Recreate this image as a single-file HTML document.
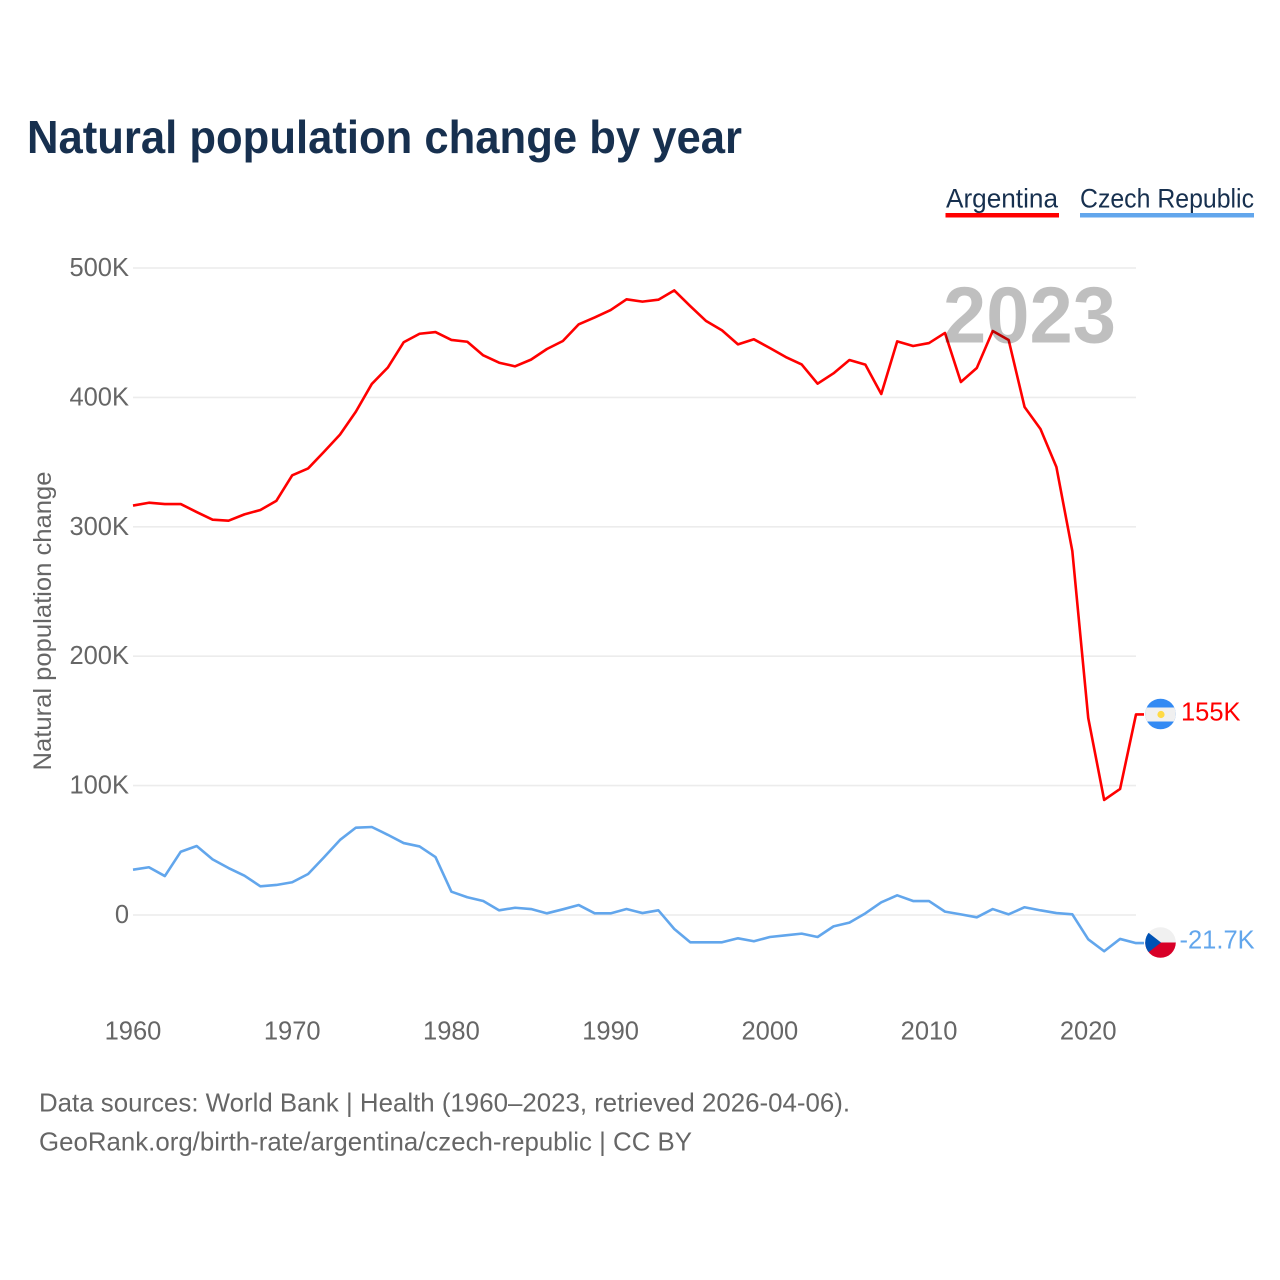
<!DOCTYPE html>
<html lang="en">
<head>
<meta charset="utf-8">
<title>Natural population change by year</title>
<style>
html,body{margin:0;padding:0;background:#fff;}
svg{display:block;font-family:"Liberation Sans",Arial,sans-serif;}
</style>
</head>
<body>
<svg id="chart" width="1280" height="1280" viewBox="0 0 1280 1280" xmlns="http://www.w3.org/2000/svg">
  <rect x="0" y="0" width="1280" height="1280" fill="#fff"/>
  <text x="27" y="153" font-size="46" font-weight="700" fill="#17304f" textLength="715" lengthAdjust="spacingAndGlyphs">Natural population change by year</text>

  <g>
    <text x="946" y="207.5" font-size="27" fill="#17304f" textLength="112" lengthAdjust="spacingAndGlyphs">Argentina</text>
    <rect x="945.5" y="213" width="113.5" height="4.5" fill="#ff0000"/>
  </g>
  <g>
    <text x="1080" y="207.5" font-size="27" fill="#17304f" textLength="174" lengthAdjust="spacingAndGlyphs">Czech Republic</text>
    <rect x="1080" y="213" width="174" height="4.5" fill="#62a6ec"/>
  </g>

  <g id="grid"></g>
  <g id="yticks"></g>
  <g id="xticks"></g>
  <text transform="translate(51 621) rotate(-90)" text-anchor="middle" font-size="25" fill="#666" textLength="299" lengthAdjust="spacingAndGlyphs">Natural population change</text>

  <g id="series"></g>

  <text x="943" y="342.5" font-size="80" font-weight="700" fill="#000" fill-opacity="0.25" textLength="173" lengthAdjust="spacingAndGlyphs">2023</text>

  <g>
    <clipPath id="clip-ar"><circle cx="1160.5" cy="714" r="15.3"/></clipPath>
    <g clip-path="url(#clip-ar)">
      <rect x="1145" y="698" width="31" height="32" fill="#338af3"/>
      <rect x="1145" y="707.5" width="31" height="14" fill="#f0f0f0"/>
      <circle cx="1161" cy="714.5" r="3.6" fill="#ffda44"/>
    </g>
  </g>
  <text id="label-ar" x="1181" y="720.5" font-size="25.5" fill="#ff0000"></text>

  <g>
    <clipPath id="clip-cz"><circle cx="1160.5" cy="942.5" r="15.3"/></clipPath>
    <g clip-path="url(#clip-cz)">
      <rect x="1145" y="927" width="31" height="16" fill="#f0f0f0"/>
      <rect x="1145" y="942.5" width="31" height="16" fill="#d80027"/>
      <polygon points="1145,930 1161,942.5 1145,955" fill="#0052b4"/>
    </g>
  </g>
  <text id="label-cz" x="1179.5" y="948.5" font-size="25.5" fill="#62a6ec"></text>

  <g>
    <text x="39" y="1111.3" font-size="26" fill="#666" textLength="811" lengthAdjust="spacingAndGlyphs">Data sources: World Bank | Health (1960–2023, retrieved 2026-04-06).</text>
    <text x="39" y="1150.3" font-size="26" fill="#666" textLength="653" lengthAdjust="spacingAndGlyphs">GeoRank.org/birth-rate/argentina/czech-republic | CC BY</text>
  </g>
</svg>
<script>
const startYear = 1960;
const yTickValues = [0, 100, 200, 300, 400, 500];
const xTickYears = [1960, 1970, 1980, 1990, 2000, 2010, 2020];
const argentina = [316.4,318.6,317.6,317.6,311.4,305.5,304.7,309.6,313,320,339.8,345.1,358,371.2,389,410.4,423,442.6,449.2,450.5,444.4,443,432.5,426.8,424,429.2,437.4,443.6,456.5,461.8,467.5,475.8,474,475.5,482.7,470.6,459,451.8,441,444.9,438.2,431.2,425.5,410.6,418.6,428.9,425.3,402.6,443.3,439.7,442,449.8,411.9,422.7,451.3,444.4,392.6,375.6,346.2,281.3,152.2,88.9,97.4,155];
const czechRepublic = [35,36.9,30.1,48.9,53.3,43,36.3,30.4,22.2,23.2,25.3,31.7,44.6,58,67.5,68,62,55.6,53,44.8,18,13.7,10.8,3.6,5.6,4.6,1.3,4.4,7.7,1.3,1.3,4.6,1.5,3.6,-10.8,-21.1,-21.1,-21.1,-18,-20.3,-17,-15.7,-14.4,-17,-8.8,-5.9,1.3,9.8,15.2,10.8,10.8,2.6,0.5,-1.8,4.6,0.5,6,3.6,1.5,0.5,-18.8,-28,-18.5,-21.7];

const NS = 'http://www.w3.org/2000/svg';
const plotLeft = 133, plotRight = 1136, zeroY = 915, yScale = 1.2940;
const endYear = startYear + argentina.length - 1;
function xPos(year) { return plotLeft + (year - startYear) * (plotRight - plotLeft) / (endYear - startYear); }
function yPos(v) { return zeroY - v * yScale; }
function fmt(v) {
  if (v === 0) return '0';
  const a = Math.abs(v);
  return (a >= 100 ? Math.round(v) : v.toFixed(1)) + 'K';
}
function make(tag, attrs, parent, text) {
  const el = document.createElementNS(NS, tag);
  for (const k in attrs) el.setAttribute(k, attrs[k]);
  if (text !== undefined) el.textContent = text;
  parent.appendChild(el);
  return el;
}

const grid = document.getElementById('grid');
const yticks = document.getElementById('yticks');
const xticks = document.getElementById('xticks');
const series = document.getElementById('series');

yTickValues.forEach(function (v) {
  const line = make('line', {x1: plotLeft, x2: plotRight, y1: yPos(v), y2: yPos(v), stroke: '#ececec', 'stroke-width': 1.6}, grid);
  
  
  const label = make('text', {x: 129, y: yPos(v) + 8, 'text-anchor': 'end', 'font-size': 25.5, fill: '#666'}, yticks, fmt(v));
  
  
});

xTickYears.forEach(function (yr) {
  const label = make('text', {x: xPos(yr), y: 1039.5, 'text-anchor': 'middle', 'font-size': 25.5, fill: '#666'}, xticks, String(yr));
  
  
});

function drawSeries(values, color) {
  const pts = values.map(function (v, i) { return xPos(startYear + i).toFixed(2) + ',' + yPos(v).toFixed(2); });
  pts.push((plotRight + 8).toFixed(2) + ',' + yPos(values[values.length - 1]).toFixed(2));
  return make('polyline', {points: pts.join(' '), fill: 'none', stroke: color, 'stroke-width': 2.6, 'stroke-linejoin': 'round'}, series);
}
const lineAr = drawSeries(argentina, '#ff0000');


const lineCz = drawSeries(czechRepublic, '#62a6ec');



document.getElementById('label-ar').textContent = fmt(argentina[argentina.length - 1]);
document.getElementById('label-cz').textContent = fmt(czechRepublic[czechRepublic.length - 1]);
</script>
</body>
</html>
